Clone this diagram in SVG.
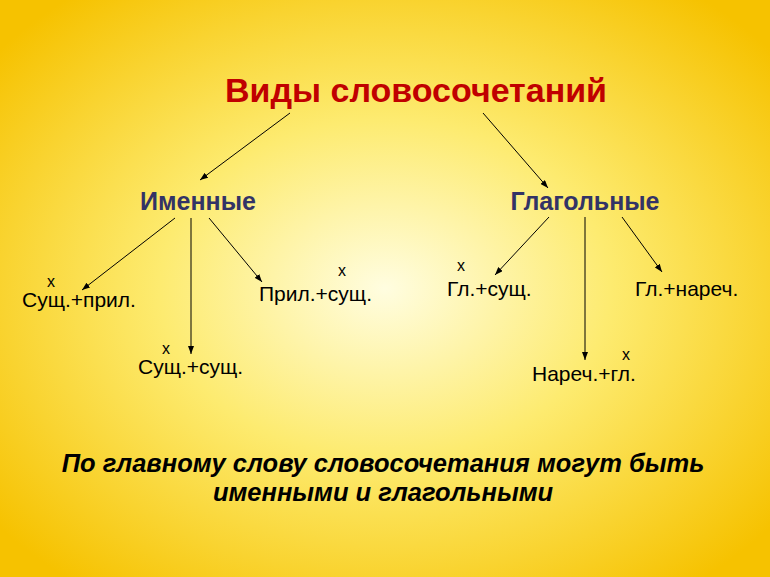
<svg xmlns="http://www.w3.org/2000/svg" width="770" height="577" viewBox="0 0 770 577">
<defs>
<radialGradient id="bg" cx="50%" cy="50%" r="65%">
<stop offset="0" stop-color="#FFFDE0"/><stop offset="0.45" stop-color="#FDEB70"/><stop offset="1" stop-color="#F6C200"/>
</radialGradient>
<marker id="ah" markerWidth="8" markerHeight="6" refX="8" refY="3" orient="auto" markerUnits="userSpaceOnUse"><path d="M0,0 L8,3 L0,6 z" fill="#000"/></marker>
<style>
text{font-family:"Liberation Sans",Arial,sans-serif}
.t{font-size:34px;font-weight:bold;fill:#C00000}
.h{font-size:25px;font-weight:bold;fill:#333366}
.n{font-size:21px;fill:#000}
.x{font-size:16px;fill:#000}
.b{font-size:25.5px;font-weight:bold;font-style:italic;fill:#000}
line{stroke:#000;stroke-width:1;marker-end:url(#ah)}
</style>
</defs>
<rect width="770" height="577" fill="url(#bg)"/>
<g id="title"><text class="t" x="416" y="102" text-anchor="middle">Виды словосочетаний</text></g>
<g id="imen"><text class="h" x="198" y="210" text-anchor="middle">Именные</text></g>
<g id="glag"><text class="h" x="585" y="210" text-anchor="middle">Глагольные</text></g>
<g id="n1"><text class="x" x="51" y="287" text-anchor="middle">x</text><text class="n" x="22" y="307">Сущ.+прил.</text></g>
<g id="n2"><text class="x" x="166" y="354" text-anchor="middle">x</text><text class="n" x="138" y="374">Сущ.+сущ.</text></g>
<g id="n3"><text class="x" x="342" y="276" text-anchor="middle">x</text><text class="n" x="259" y="301">Прил.+сущ.</text></g>
<g id="n4"><text class="x" x="461" y="271" text-anchor="middle">x</text><text class="n" x="447" y="296">Гл.+сущ.</text></g>
<g id="n5"><text class="n" x="635" y="296">Гл.+нареч.</text></g>
<g id="n6"><text class="x" x="626" y="360" text-anchor="middle">x</text><text class="n" x="532" y="381">Нареч.+гл.</text></g>
<g id="bottom"><text class="b" x="383" y="472" text-anchor="middle">По главному слову словосочетания могут быть</text><text class="b" x="383" y="501" text-anchor="middle">именными и глагольными</text></g>
<g id="connectors">
<line x1="290" y1="113" x2="200" y2="180"/>
<line x1="483" y1="113" x2="548" y2="188"/>
<line x1="175" y1="218" x2="82" y2="290"/>
<line x1="191" y1="218" x2="191" y2="354"/>
<line x1="209" y1="218" x2="262" y2="282"/>
<line x1="549" y1="217" x2="495" y2="275"/>
<line x1="585" y1="217" x2="585" y2="360"/>
<line x1="622" y1="217" x2="662" y2="272"/>
</g>
</svg>
